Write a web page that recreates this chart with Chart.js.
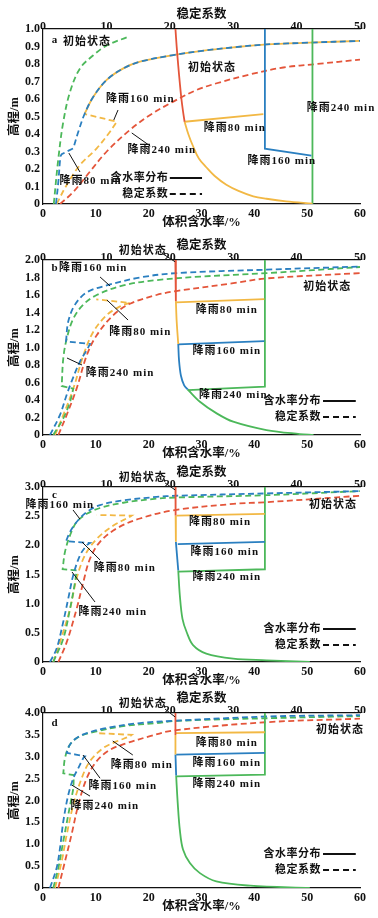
<!DOCTYPE html>
<html>
<head>
<meta charset="utf-8">
<script src="https://cdn.jsdelivr.net/npm/chart.js@4.4.1/dist/chart.umd.min.js"></script>
<style>
body { margin: 0; background: #fff; width: 378px; height: 918px; position: relative; overflow: hidden; }
.panel { position: absolute; left: 0; width: 378px; height: 235px; }
</style>
</head>
<body>
<div class="panel" style="top:-1px"><canvas id="cA" width="378" height="235"></canvas></div>
<div class="panel" style="top:230px"><canvas id="cB" width="378" height="235"></canvas></div>
<div class="panel" style="top:457px"><canvas id="cC" width="378" height="235"></canvas></div>
<div class="panel" style="top:683px"><canvas id="cD" width="378" height="235"></canvas></div>
<script>
// colours of the four states
const C_INIT = '#e4553a';
const C_80 = '#f2b844';
const C_160 = '#2a7fc0';
const C_240 = '#4cb85a';

const X_TICKS = [0, 10, 20, 30, 40, 50, 60];
const X2_TICKS = [0, 10, 20, 30, 40, 50];
const aYTicks = [0, 0.1, 0.2, 0.3, 0.4, 0.5, 0.6, 0.7, 0.8, 0.9, 1.0];
const bYTicks = [0, 0.2, 0.4, 0.6, 0.8, 1.0, 1.2, 1.4, 1.6, 1.8, 2.0];
const cYTicks = [0, 0.5, 1.0, 1.5, 2.0, 2.5, 3.0];
const dYTicks = [0, 0.5, 1.0, 1.5, 2.0, 2.5, 3.0, 3.5, 4.0];

// ---- panel a ----
// water content (bottom axis, %)
const aWcInit = [[25.07, 1.0], [25.3, 0.9], [25.6, 0.79], [25.9, 0.69], [26.2, 0.6], [26.5, 0.53], [26.8, 0.47]];
const aWc80 = [[26.8, 0.47], [27.5, 0.40], [28.4, 0.33], [29.5, 0.26], [30.9, 0.21], [32.5, 0.16], [34.7, 0.11], [37, 0.075], [39.8, 0.044], [42.3, 0.03], [46, 0.015], [51, 0.002]];
const aWc80Step = [[26.8, 0.47], [41.7, 0.514]];
const aWc160 = [[42, 1.0], [42, 0.316], [50.8, 0.276]];
const aWc240 = [[51, 1.0], [51, 0]];
// stability factor (top axis)
const aFsInit = [[2.7, 0], [4.8, 0.07], [7.4, 0.185], [10.05, 0.3], [13.7, 0.423], [16.9, 0.509], [20.55, 0.585], [24.2, 0.651], [27.4, 0.69], [32.6, 0.74], [37.9, 0.78], [43.2, 0.8], [50, 0.825]];
const aFs240 = [[1.7, 0], [2.42, 0.26], [3.2, 0.47], [4.26, 0.64], [5.84, 0.775], [7.94, 0.85], [10.0, 0.905], [13.46, 0.956]];
const aFs160 = [[2.05, 0], [2.42, 0.127], [2.75, 0.27], [2.95, 0.285], [2.95, 0.285], [4.78, 0.318], [4.78, 0.318], [5.57, 0.413], [6.62, 0.52], [7.94, 0.613], [10.05, 0.709], [12.67, 0.775], [15.3, 0.813], [20.55, 0.851], [24.8, 0.874], [30, 0.895], [35.3, 0.912], [42, 0.922], [50, 0.932]];
const aFs80 = [[2.15, 0], [3.74, 0.109], [5.84, 0.223], [8.47, 0.318], [10.57, 0.413], [11.62, 0.47], [11.62, 0.47], [6.62, 0.514]];
const aNotes = [['a', 2.27, 0.937], ['初始状态', 8.33, 0.926], ['初始状态', 32.0, 0.777], ['降雨160 min', 18.4, 0.6], ['降雨240 min', 56.4, 0.549], ['降雨80 min', 36.3, 0.434], ['降雨240 min', 22.5, 0.309], ['降雨160 min', 45.2, 0.246], ['降雨80 min', 9.0, 0.128]];
const aLeaders = [[14.2, 0.537, 13.4, 0.48], [16.8, 0.406, 20.3, 0.331], [4.9, 0.291, 7.0, 0.183]];

// ---- panel b ----
const bWcInit = [[25.05, 2.0], [25.15, 1.53]];
const bWc80 = [[25.15, 1.53], [25.3, 1.3], [25.6, 1.04]];
const bWc80Step = [[25.2, 1.516], [41.9, 1.554]];
const bWc160 = [[25.6, 1.04], [25.75, 0.85], [26.1, 0.68], [26.7, 0.57], [27.4, 0.52]];
const bWc160Step = [[25.6, 1.036], [41.9, 1.074]];
const bWc240 = [[27.4, 0.52], [29.7, 0.38], [32.8, 0.25], [36, 0.152], [42.3, 0.057], [48.6, 0.011], [51.2, 0]];
const bWc240Step = [[27.4, 0.514], [42, 0.552], [42, 2.0]];
const bFsInit = [[2.42, 0], [3.74, 0.23], [5.3, 0.53], [6.9, 0.91], [8.47, 1.14], [11.1, 1.37], [13.72, 1.5], [17.9, 1.6], [21, 1.645], [30, 1.735], [35.3, 1.79], [50, 1.85]];
const bFs240 = [[1.62, 0], [3.2, 0.19], [4.26, 0.38], [4.78, 0.53], [4.78, 0.53], [2.95, 0.56], [2.95, 0.56], [3.2, 0.876], [3.74, 1.1], [4.78, 1.33], [6.36, 1.49], [8.47, 1.6], [12.67, 1.71], [17.9, 1.77], [24.8, 1.81], [35.3, 1.85], [50, 1.92]];
const bFs160 = [[1.1, 0], [2.68, 0.23], [3.74, 0.46], [4.5, 0.61], [5.84, 0.84], [6.9, 0.97], [7.41, 1.04], [7.41, 1.04], [3.63, 1.07], [3.63, 1.07], [3.99, 1.3], [5.05, 1.49], [6.9, 1.63], [10.05, 1.71], [15.3, 1.8], [21, 1.85], [35.3, 1.89], [50, 1.925]];
const bFs80 = [[1.9, 0], [3.2, 0.23], [4.78, 0.53], [6.36, 0.91], [7.94, 1.18], [10.05, 1.37], [12.15, 1.47], [13.72, 1.51], [13.72, 1.51], [8.4, 1.55]];
const bNotes = [['b', 2.27, 1.909], ['初始状态', 18.9, 2.1], ['降雨160 min', 9.5, 1.905], ['降雨80 min', 18.4, 1.177], ['降雨240 min', 14.6, 0.709], ['初始状态', 53.8, 1.69], ['降雨80 min', 34.8, 1.43], ['降雨160 min', 34.8, 0.96], ['降雨240 min', 36.0, 0.457]];
const bLeaders = [[22.7, 2.07, 25.0, 1.98], [10.8, 1.806, 12.7, 1.703], [12.1, 1.543, 16.1, 1.314], [4.54, 0.88, 7.38, 0.8]];

// ---- panel c ----
const cWcInit = [[25.07, 3.0], [25.1, 2.51]];
const cWc80 = [[25.1, 2.51], [25.15, 2.06]];
const cWc80Step = [[25.3, 2.51], [42, 2.54]];
const cWc160 = [[25.15, 2.06], [25.6, 1.57]];
const cWc160Step = [[25.5, 2.02], [42, 2.06]];
const cWc240 = [[25.6, 1.57], [25.9, 1.14], [26.4, 0.74], [27.2, 0.51], [28.4, 0.29], [30.9, 0.143], [36, 0.057], [42.3, 0.029], [50.5, 0]];
const cWc240Step = [[25.7, 1.55], [42, 1.59], [42, 3.0]];
const cFsInit = [[2.42, 0], [3.74, 0.34], [5.3, 0.91], [6.36, 1.37], [7.41, 1.77], [8.99, 2.06], [11.62, 2.29], [15.3, 2.46], [20.55, 2.6], [30, 2.71], [35.3, 2.74], [50, 2.85]];
const cFs240 = [[1.62, 0], [3.2, 0.4], [4.26, 0.91], [5.05, 1.37], [5.3, 1.57], [5.3, 1.57], [3.1, 1.59], [3.1, 1.59], [3.47, 1.89], [4.26, 2.17], [5.3, 2.4], [6.9, 2.54], [8.99, 2.64], [12.67, 2.73], [17.9, 2.8], [21, 2.82], [35.3, 2.86], [50, 2.93]];
const cFs160 = [[1.1, 0], [2.15, 0.23], [3.2, 0.69], [3.99, 1.09], [4.78, 1.49], [5.84, 1.83], [6.9, 2.0], [7.41, 2.04], [7.41, 2.04], [3.63, 2.07], [3.63, 2.07], [4.26, 2.23], [5.3, 2.4], [6.9, 2.57], [8.99, 2.69], [12.67, 2.77], [17.9, 2.83], [21, 2.85], [35.3, 2.89], [50, 2.93]];
const cFs80 = [[1.62, 0], [2.68, 0.34], [4.26, 0.91], [5.3, 1.43], [6.62, 1.83], [8.47, 2.11], [11.1, 2.34], [13.72, 2.49], [14, 2.51], [14, 2.51], [8.47, 2.52]];
const cNotes = [['c', 2.27, 2.863], ['降雨160 min', 3.2, 2.69], ['初始状态', 18.9, 3.15], ['初始状态', 54.9, 2.69], ['降雨80 min', 33.5, 2.4], ['降雨160 min', 34.4, 1.886], ['降雨240 min', 34.8, 1.457], ['降雨80 min', 15.5, 1.611], ['降雨240 min', 13.2, 0.857]];
const cLeaders = [[5.68, 2.606, 7.0, 2.45], [23.1, 3.07, 25.0, 2.95], [7.38, 2.057, 10.8, 1.749], [5.49, 1.543, 9.84, 1.029]];

// ---- panel d ----
const dWcInit = [[25.07, 4.0], [25.07, 3.5]];
const dWc80 = [[25.07, 3.5], [25.07, 3.05]];
const dWc80Step = [[25.07, 3.54], [42, 3.56]];
const dWc160 = [[25.07, 3.05], [25.2, 2.57]];
const dWc160Step = [[25.2, 3.05], [42, 3.09]];
const dWc240 = [[25.2, 2.57], [25.5, 1.94], [25.9, 1.33], [26.5, 0.88], [27.8, 0.57], [29.7, 0.34], [32.8, 0.15], [39.2, 0.053], [50.5, 0]];
const dWc240Step = [[25.3, 2.55], [42, 2.59], [42, 4.0]];
const dFsInit = [[2.42, 0], [3.47, 0.61], [4.5, 1.22], [5.57, 1.9], [6.9, 2.51], [8.47, 2.9], [10.57, 3.16], [13.2, 3.31], [16.88, 3.47], [20.55, 3.6], [35.3, 3.79], [50, 3.87]];
const dFs240 = [[1.62, 0], [2.42, 0.46], [3.2, 1.07], [3.99, 1.68], [4.5, 2.06], [4.78, 2.29], [4.85, 2.58], [4.85, 2.58], [3.2, 2.62], [3.2, 2.62], [3.47, 2.97], [4.26, 3.28], [5.84, 3.47], [8.47, 3.58], [12.67, 3.7], [17.9, 3.77], [21, 3.82], [35.3, 3.88], [50, 3.93]];
const dFs160 = [[1.1, 0], [2.15, 0.46], [2.68, 0.91], [3.2, 1.52], [3.99, 2.13], [4.78, 2.51], [5.57, 2.74], [6.36, 2.97], [6.62, 3.01], [6.62, 3.01], [3.74, 3.09], [3.74, 3.09], [4.26, 3.28], [5.3, 3.43], [6.9, 3.54], [10.05, 3.66], [15.3, 3.77], [20.55, 3.82], [35.3, 3.92], [50, 3.95]];
const dFs80 = [[1.9, 0], [2.95, 0.61], [3.74, 1.22], [4.78, 1.9], [6.1, 2.51], [7.41, 2.9], [9.52, 3.2], [11.62, 3.35], [13.72, 3.47], [14, 3.5], [14, 3.5], [8.47, 3.54]];
const dNotes = [['d', 2.27, 3.77], ['初始状态', 18.9, 4.2], ['初始状态', 56.2, 3.61], ['降雨80 min', 34.8, 3.31], ['降雨160 min', 34.8, 2.86], ['降雨240 min', 34.8, 2.38], ['降雨80 min', 18.7, 2.81], ['降雨160 min', 15.1, 2.33], ['降雨240 min', 11.7, 1.87]];
const dLeaders = [[23.1, 4.09, 25.0, 3.91], [13.2, 3.36, 17.0, 3.04], [7.57, 3.04, 10.8, 2.51], [5.49, 2.35, 8.9, 2.1]];

const FONT = "'Liberation Serif', 'Noto Sans CJK SC', serif";
Chart.defaults.font.family = FONT;
Chart.defaults.font.weight = 'bold';
Chart.defaults.color = '#111';

function ds(points, color, axis, dashed, order, straight) {
    return {
        data: points.map(function(p) { return {x: p[0], y: p[1]}; }),
        xAxisID: axis,
        yAxisID: 'y',
        borderColor: color,
        borderWidth: 1.8,
        borderDash: dashed ? [6, 3.5] : [],
        pointRadius: 0,
        tension: straight ? 0 : 0.35,
        fill: false,
        order: order
    };
}

// labels, leader lines and the small line legend, placed in data units
const notesPlugin = {
    id: 'notes',
    afterDatasetsDraw: function(chart, args, opts) {
        const ctx = chart.ctx;
        const px = function(v) { return chart.scales.x.getPixelForValue(v); };
        const py = function(v) { return chart.scales.y.getPixelForValue(v); };
        ctx.save();
        ctx.strokeStyle = '#111';
        ctx.lineWidth = 1;
        for (let i = 0; i < opts.leaders.length; i++) {
            const l = opts.leaders[i];
            ctx.beginPath();
            ctx.moveTo(px(l[0]), py(l[1]));
            ctx.lineTo(px(l[2]), py(l[3]));
            ctx.stroke();
        }
        ctx.fillStyle = '#111';
        ctx.font = 'bold 11px ' + FONT;
        ctx.textAlign = 'center';
        ctx.textBaseline = 'middle';
        ctx.letterSpacing = '1px';
        for (let i = 0; i < opts.labels.length; i++) {
            const t = opts.labels[i];
            ctx.fillText(t[0], px(t[1]), py(t[2]));
        }
        const lg = opts.legend;
        ctx.textAlign = 'right';
        ctx.letterSpacing = '0.5px';
        ctx.fillText('含水率分布', px(lg[0]), py(lg[3]));
        ctx.fillText('稳定系数', px(lg[0]), py(lg[4]));
        ctx.lineWidth = 2;
        ctx.beginPath();
        ctx.moveTo(px(lg[1]), py(lg[3]));
        ctx.lineTo(px(lg[2]), py(lg[3]));
        ctx.stroke();
        ctx.setLineDash([6, 4]);
        ctx.beginPath();
        ctx.moveTo(px(lg[1]), py(lg[4]));
        ctx.lineTo(px(lg[2]), py(lg[4]));
        ctx.stroke();
        ctx.restore();
    }
};

function fmtY(v) {
    return v === 0 ? '0' : v.toFixed(1);
}

function makePanel(id, yMax, yTicks, datasets, notes, leaders, legend) {
    const tickFont = {size: 12, weight: 'bold'};
    const titleFont = {size: 12.5, weight: 'bold'};
    new Chart(document.getElementById(id), {
        type: 'line',
        data: {datasets: datasets},
        options: {
            responsive: false,
            animation: false,
            layout: {padding: {left: 0, right: 18, top: 0, bottom: 0}},
            plugins: {
                legend: {display: false},
                tooltip: {enabled: false},
                notes: {labels: notes, leaders: leaders, legend: legend}
            },
            scales: {
                x: {
                    type: 'linear', position: 'bottom', min: 0, max: 60,
                    grid: {display: false, drawTicks: false},
                    border: {color: '#111', width: 1.2},
                    ticks: {font: tickFont, padding: 2.5, maxRotation: 0, autoSkip: false},
                    title: {display: true, text: '体积含水率/%', font: titleFont, padding: {top: 0, bottom: 4}},
                    afterBuildTicks: function(s) { s.ticks = X_TICKS.map(function(v) { return {value: v}; }); },
                    afterFit: function(s) { s.height = 30; }
                },
                x2: {
                    type: 'linear', axis: 'x', position: 'top', min: 0, max: 50,
                    grid: {display: false, drawTicks: false},
                    border: {color: '#111', width: 1.2},
                    ticks: {font: tickFont, padding: -5, maxRotation: 0, autoSkip: false},
                    title: {display: true, text: '稳定系数', font: titleFont, padding: {top: 8, bottom: 0}},
                    afterBuildTicks: function(s) { s.ticks = X2_TICKS.map(function(v) { return {value: v}; }); },
                    afterFit: function(s) { s.height = 30; }
                },
                y: {
                    type: 'linear', position: 'left', min: 0, max: yMax,
                    grid: {display: false, drawTicks: false},
                    border: {color: '#111', width: 1.2},
                    ticks: {font: tickFont, padding: 3, autoSkip: false, callback: fmtY},
                    title: {display: true, text: '高程/m', font: titleFont, padding: {top: 7, bottom: 0}},
                    afterBuildTicks: function(s) { s.ticks = yTicks.map(function(v) { return {value: v}; }); },
                    afterFit: function(s) { s.width = 43; }
                }
            }
        },
        plugins: [notesPlugin]
    });
}

window.onload = function() {
    makePanel('cA', 1.0, aYTicks, [
        ds(aWcInit, C_INIT, 'x', false, 0),
        ds(aWc80, C_80, 'x', false, 0),
        ds(aWc80Step, C_80, 'x', false, 0, true),
        ds(aWc160, C_160, 'x', false, 0, true),
        ds(aWc240, C_240, 'x', false, 0, true),
        ds(aFsInit, C_INIT, 'x2', true, 2),
        ds(aFs240, C_240, 'x2', true, 2),
        ds(aFs160, C_160, 'x2', true, 3),
        ds(aFs80, C_80, 'x2', true, 4),
        // 80 min joins the 160 min curve above 0.52 m
        ds(aFs160.slice(8), C_80, 'x2', false, 5)
    ], aNotes, aLeaders, [23.7, 24.0, 30.1, 0.149, 0.057]);

    makePanel('cB', 2.0, bYTicks, [
        ds(bWcInit, C_INIT, 'x', false, 0, true),
        ds(bWc80, C_80, 'x', false, 0),
        ds(bWc80Step, C_80, 'x', false, 0, true),
        ds(bWc160, C_160, 'x', false, 0),
        ds(bWc160Step, C_160, 'x', false, 0, true),
        ds(bWc240, C_240, 'x', false, 0),
        ds(bWc240Step, C_240, 'x', false, 0, true),
        ds(bFs160, C_160, 'x2', true, 2),
        ds(bFs240, C_240, 'x2', true, 3),
        ds(bFsInit, C_INIT, 'x2', true, 4),
        ds(bFs80, C_80, 'x2', true, 5)
    ], bNotes, bLeaders, [52.6, 53.0, 59.2, 0.389, 0.206]);

    makePanel('cC', 3.0, cYTicks, [
        ds(cWcInit, C_INIT, 'x', false, 0, true),
        ds(cWc80, C_80, 'x', false, 0, true),
        ds(cWc80Step, C_80, 'x', false, 0, true),
        ds(cWc160, C_160, 'x', false, 0, true),
        ds(cWc160Step, C_160, 'x', false, 0, true),
        ds(cWc240, C_240, 'x', false, 0),
        ds(cWc240Step, C_240, 'x', false, 0, true),
        ds(cFs160, C_160, 'x2', true, 2),
        ds(cFs240, C_240, 'x2', true, 3),
        ds(cFsInit, C_INIT, 'x2', true, 4),
        ds(cFs80, C_80, 'x2', true, 5)
    ], cNotes, cLeaders, [52.6, 53.0, 59.2, 0.566, 0.291]);

    makePanel('cD', 4.0, dYTicks, [
        ds(dWcInit, C_INIT, 'x', false, 0, true),
        ds(dWc80, C_80, 'x', false, 0, true),
        ds(dWc80Step, C_80, 'x', false, 0, true),
        ds(dWc160, C_160, 'x', false, 0, true),
        ds(dWc160Step, C_160, 'x', false, 0, true),
        ds(dWc240, C_240, 'x', false, 0),
        ds(dWc240Step, C_240, 'x', false, 0, true),
        ds(dFs160, C_160, 'x2', true, 2),
        ds(dFs240, C_240, 'x2', true, 3),
        ds(dFsInit, C_INIT, 'x2', true, 4),
        ds(dFs80, C_80, 'x2', true, 5)
    ], dNotes, dLeaders, [52.6, 53.0, 59.2, 0.777, 0.411]);
};
</script>
</body>
</html>
